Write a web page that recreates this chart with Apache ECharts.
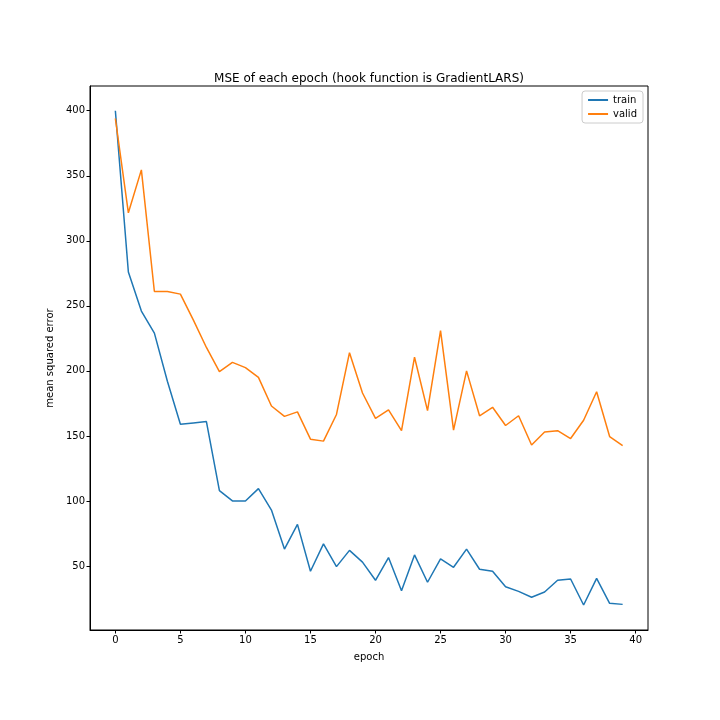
<!DOCTYPE html>
<html>
<head>
<meta charset="utf-8">
<script src="https://cdn.jsdelivr.net/npm/echarts@6/dist/echarts.min.js"></script>
<style>html,body{margin:0;padding:0;background:#fff}#c{width:720px;height:720px}</style>
</head>
<body>
<div id="c"></div>
<script>
const epochs = Array.from({length: 40}, (_, i) => i);
const train = [400, 276, 246, 229, 192, 159, 160, 161, 108, 100, 100, 109.5, 93, 63, 82, 46, 67, 49.5, 62, 53, 39, 56.5, 31, 58.5, 37.5, 55.5, 49, 63, 47.5, 46, 34, 30.5, 26, 30, 39, 40, 20, 40.5, 21.3, 20.5];
const valid = [394, 321.5, 354.5, 261, 261, 259, 239, 218, 199.5, 206.5, 202.5, 195, 173, 165, 168.5, 147.5, 146, 166.5, 214, 183, 163.5, 170, 154, 210.5, 169.5, 231, 154.5, 200, 165.5, 172, 158, 165.5, 143, 153, 154, 148, 162, 184, 149.5, 142.5];
const xTicks = [0, 5, 10, 15, 20, 25, 30, 35, 40];
const yTicks = [50, 100, 150, 200, 250, 300, 350, 400];

const font = 'DejaVu Sans';
const chart = echarts.init(document.getElementById('c'), null, {renderer: 'canvas'});
chart.setOption({
  animation: false,
  backgroundColor: '#fff',
  title: {
    text: 'MSE of each epoch (hook function is GradientLARS)',
    left: 364, top: 68, textAlign: 'center',
    textStyle: {fontFamily: font, fontSize: 12, fontWeight: 'normal', color: '#000'}
  },
  legend: {
    orient: 'vertical', right: 77, top: 91,
    data: ['train', 'valid'],
    backgroundColor: '#fff', borderColor: '#ccc', borderWidth: 1, borderRadius: 3,
    padding: [4, 6, 4, 6], itemGap: 4,
    itemWidth: 20, itemHeight: 2, icon: 'rect',
    textStyle: {fontFamily: font, fontSize: 10, color: '#000'}
  },
  grid: {left: 90, right: 72, top: 86, bottom: 90, show: true, borderColor: '#000', borderWidth: 1, containLabel: false},
  xAxis: {
    type: 'value', min: -1.95, max: 40.95,
    name: 'epoch', nameLocation: 'middle', nameGap: 22,
    nameTextStyle: {fontFamily: font, fontSize: 10, color: '#000'},
    splitLine: {show: false},
    axisLine: {show: true, onZero: false, lineStyle: {color: '#000', width: 1}},
    axisTick: {show: true, length: 3.5, lineStyle: {color: '#000'}, customValues: xTicks},
    axisLabel: {fontFamily: font, fontSize: 10, color: '#000', margin: 5, customValues: xTicks}
  },
  yAxis: {
    type: 'value', min: 0.8, max: 419,
    name: 'mean squared error', nameLocation: 'middle', nameGap: 33,
    nameTextStyle: {fontFamily: font, fontSize: 10, color: '#000'},
    splitLine: {show: false},
    axisLine: {show: true, onZero: false, lineStyle: {color: '#000', width: 1}},
    axisTick: {show: true, length: 3.5, lineStyle: {color: '#000'}, customValues: yTicks},
    axisLabel: {fontFamily: font, fontSize: 10, color: '#000', margin: 5, customValues: yTicks}
  },
  series: [
    {name: 'train', type: 'line', data: epochs.map((e, i) => [e, train[i]]), showSymbol: false, symbol: 'none',
     lineStyle: {color: '#1f77b4', width: 1.5}, itemStyle: {color: '#1f77b4'}},
    {name: 'valid', type: 'line', data: epochs.map((e, i) => [e, valid[i]]), showSymbol: false, symbol: 'none',
     lineStyle: {color: '#ff7f0e', width: 1.5}, itemStyle: {color: '#ff7f0e'}}
  ]
});
</script>
</body>
</html>
